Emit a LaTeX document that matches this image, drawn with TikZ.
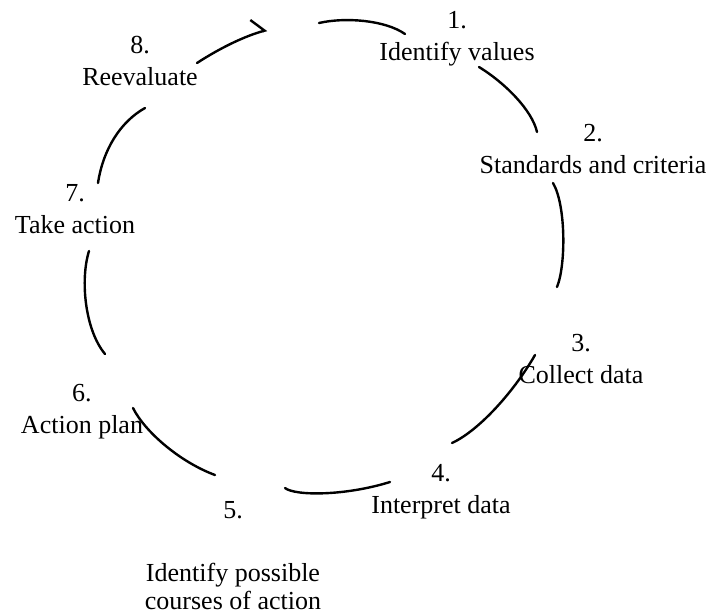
\documentclass[tikz,border=0pt]{standalone}
\usepackage{fontspec}
\setmainfont{Liberation Serif}
\usetikzlibrary{arrows.meta}

\begin{document}
\begin{tikzpicture}[x=1pt,y=-1pt,
  lbl/.style={align=center,anchor=north,inner sep=0pt,font=\fontsize{26}{32}\selectfont},
  ring/.style={line width=2.4pt,line cap=round}]
\useasboundingbox (0,0) rectangle (712,613);
\node[lbl] (s1) at (457,11) {1.\\Identify values};
\node[lbl] (s2) at (593,124) {2.\\Standards and criteria};
\node[lbl] (s3) at (581,334) {3.\\Collect data};
\node[lbl] (s4) at (441,464) {4.\\Interpret data};
\node[lbl] (s5) at (233,501) {5.};
\node[lbl,font=\fontsize{26}{28}\selectfont] (s5t) at (233,563) {Identify possible\\courses of action};
\node[lbl] (s6) at (82,384) {6.\\Action plan};
\node[lbl] (s7) at (75,184) {7.\\Take action};
\node[lbl] (s8) at (140,36) {8.\\Reevaluate};
\coordinate (a1) at (319,23);  \coordinate (b1) at (405,34);
\coordinate (a2) at (479,67);  \coordinate (b2) at (537,132);
\coordinate (a3) at (553,183); \coordinate (b3) at (557,287);
\coordinate (a4) at (535,355); \coordinate (b4) at (452,443);
\coordinate (a5) at (390,482); \coordinate (b5) at (285,488);
\coordinate (a6) at (215,475); \coordinate (b6) at (133,408);
\coordinate (a7) at (105,354); \coordinate (b7) at (89,251);
\coordinate (a8) at (98,183);  \coordinate (b8) at (145,108);
\coordinate (a9) at (197,63);  \coordinate (b9) at (267,30);
\draw[ring] (a1) .. controls (345,17) and (385,20) .. (b1);
\draw[ring] (a2) .. controls (505,83) and (532,110) .. (b2);
\draw[ring] (a3) .. controls (566,205) and (566,265) .. (b3);
\draw[ring] (a4) .. controls (515,390) and (480,430) .. (b4);
\draw[ring] (a5) .. controls (345,496) and (295,496) .. (b5);
\draw[ring] (a6) .. controls (180,462) and (145,432) .. (b6);
\draw[ring] (a7) .. controls (85,330) and (80,280) .. (b7);
\draw[ring] (a8) .. controls (103,150) and (120,122) .. (b8);
\draw[ring,-{Straight Barb[harpoon,length=11pt,width=28pt]}] (a9) .. controls (220,48) and (245,36) .. (b9);
%\draw (s1) -- (s2);
\end{tikzpicture}
\end{document}
